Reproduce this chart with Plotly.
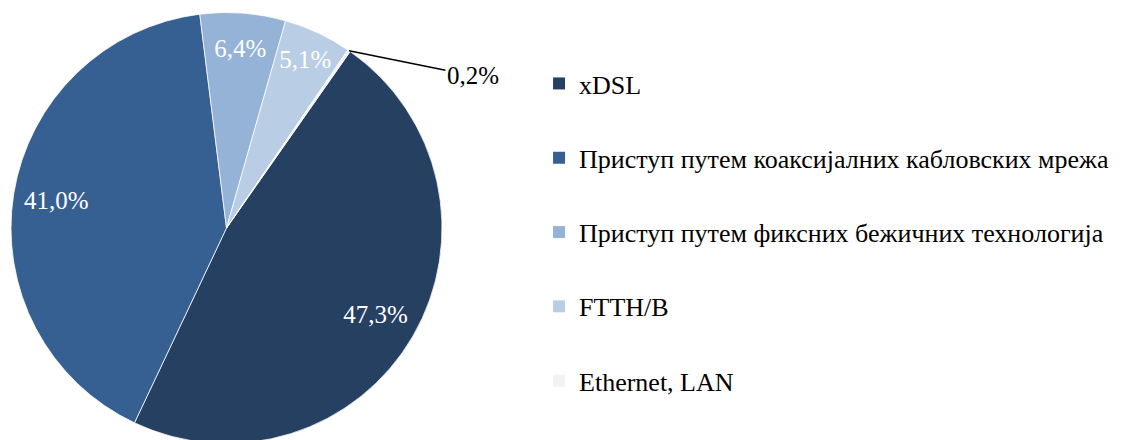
import math
import plotly.graph_objects as go

labels = ["xDSL", "Приступ путем коаксијалних кабловских мрежа",
          "Приступ путем фиксних бежичних технологија", "FTTH/B", "Ethernet, LAN"]
values = [47.3, 41.0, 6.4, 5.1, 0.2]
colors = ["#264061", "#376092", "#95B3D7", "#B9CDE5", "#F2F2F2"]
text_labels = ["47,3%", "41,0%", "6,4%", "5,1%", "0,2%"]
text_pos = ["inside", "inside", "inside", "inside", "none"]

FONT = "Times New Roman, Liberation Serif, serif"
W, H = 1127, 440
ROT = 35
pie_domain = dict(x=[3 / W, 434 / W], y=[4.5 / H, 435.5 / H])

fig = go.Figure()
# coloured slices
fig.add_trace(go.Pie(
    labels=labels, values=values, sort=False, direction="clockwise", rotation=ROT,
    marker=dict(colors=colors, line=dict(color="white", width=0.75)),
    textinfo="none", domain=pie_domain, showlegend=False,
    hoverinfo="label+percent",
))
# transparent ring carrying the percentage labels (puts them toward the rim)
fig.add_trace(go.Pie(
    labels=labels, values=values, text=text_labels, textinfo="text",
    textposition=text_pos, sort=False, direction="clockwise", rotation=ROT,
    hole=0.6,
    marker=dict(colors=["rgba(0,0,0,0)"] * len(values), line=dict(width=0)),
    insidetextfont=dict(color="white", size=25, family=FONT),
    insidetextorientation="horizontal",
    domain=pie_domain, showlegend=False, hoverinfo="skip",
))
for lab, col in zip(labels, colors):
    fig.add_trace(go.Scatter(
        x=[None], y=[None], mode="markers", name=lab, legendgroup=lab,
        marker=dict(symbol="square", size=13, color=col),
        showlegend=True, hoverinfo="skip",
    ))

# leader-line label for the tiny last slice, anchored at its mid-angle on the rim
total = sum(values)
start = sum(values[:-1]) / total * 360
mid = math.radians(ROT + start + values[-1] / total * 180)
cx = (pie_domain["x"][0] + pie_domain["x"][1]) / 2
cy = (pie_domain["y"][0] + pie_domain["y"][1]) / 2
r_px = (pie_domain["y"][1] - pie_domain["y"][0]) * H / 2
ax_pt = cx + r_px * math.sin(mid) / W
ay_pt = cy + r_px * math.cos(mid) / H
fig.add_annotation(
    x=ax_pt, y=ay_pt, xref="paper", yref="paper", text=text_labels[-1],
    showarrow=True, arrowhead=0, arrowwidth=1.5, arrowcolor="black",
    ax=124, ay=25, standoff=0, startstandoff=0,
    font=dict(family=FONT, size=25, color="black"),
)

fig.update_layout(
    width=W, height=H, margin=dict(l=0, r=0, t=0, b=0),
    paper_bgcolor="white", plot_bgcolor="white",
    font=dict(family=FONT, size=26, color="black"),
    uniformtext=dict(minsize=25, mode="show"),
    xaxis=dict(visible=False, domain=[0.6, 0.61]),
    yaxis=dict(visible=False, domain=[0.6, 0.61]),
    legend=dict(x=0.4712, y=0.8817, xanchor="left", yanchor="top",
                tracegroupgap=37.5, itemsizing="constant",
                font=dict(family=FONT, size=26, color="black"),
                bgcolor="rgba(0,0,0,0)"),
)
fig.write_html("out.html")
